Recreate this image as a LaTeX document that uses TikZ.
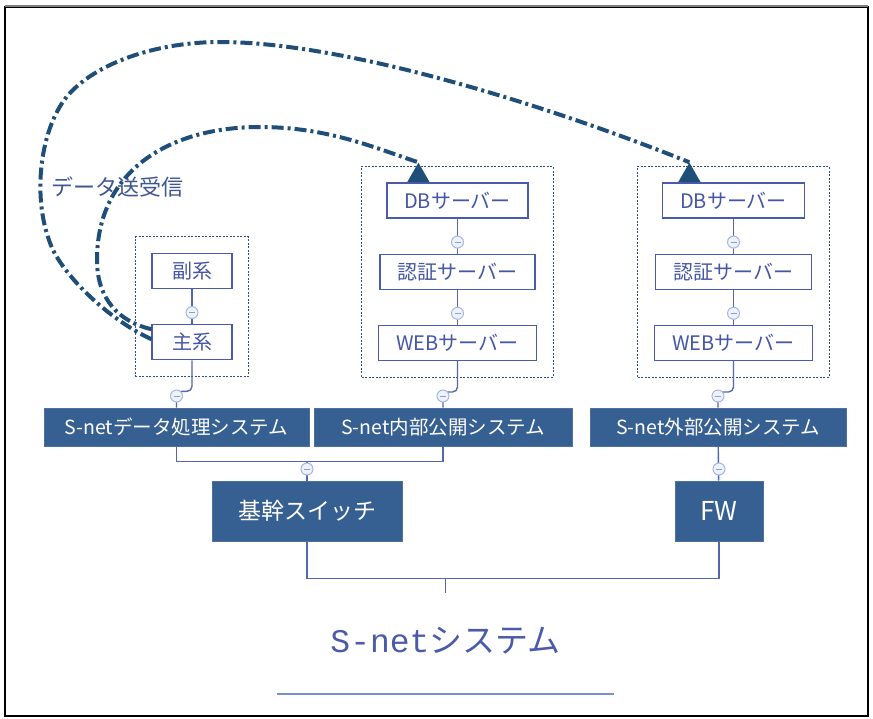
\documentclass[tikz,border=0pt]{standalone}
\usepackage{fontspec}
\setmainfont{Noto Sans CJK JP}
\newfontfamily\slabfont{Liberation Mono}
\usetikzlibrary{positioning, fit, shapes.geometric, calc}
\definecolor{navy}{HTML}{1F4E79}
\definecolor{sysblue}{HTML}{376092}
\definecolor{sysedge}{HTML}{4F6F9F}
\definecolor{boxline}{HTML}{4A5AAE}
\definecolor{boxtext}{HTML}{4656A6}
\definecolor{linkblue}{HTML}{5566B0}
\definecolor{knobline}{HTML}{A6B6E4}
\definecolor{knobfill}{HTML}{EEF2FB}
\definecolor{knobdash}{HTML}{8C9DD0}
\definecolor{grpline}{HTML}{2F4F78}
\definecolor{labelblue}{HTML}{3F5590}
\definecolor{titleblue}{HTML}{4A5BAA}
\definecolor{underblue}{HTML}{7B90CF}
\definecolor{framegray}{HTML}{7F7F7F}

\begin{document}
\begin{tikzpicture}[
  x=1pt, y=-1pt,
  srvbox/.style={draw=boxline, fill=white, line width=1.2pt, text=boxtext, font=\fontsize{20}{24}\selectfont, inner sep=0pt, minimum height=35pt},
  sysbox/.style={draw=sysedge, fill=sysblue, line width=1pt, text=white, font=\fontsize{19.5}{23}\selectfont, inner sep=0pt, minimum height=38pt},
  netbox/.style={sysbox, font=\fontsize{23}{27}\selectfont, minimum height=60pt},
  grp/.style={draw=grpline, dash pattern=on 2pt off 1.5pt, line width=1pt, inner sep=16pt},
  link/.style={draw=linkblue, line width=1.4pt},
  knob/.style={circle, draw=knobline, fill=knobfill, line width=1pt, minimum size=12pt, inner sep=0pt,
    path picture={\draw[knobdash, line width=1pt] ([xshift=-3pt]path picture bounding box.center) -- ([xshift=3pt]path picture bounding box.center);}},
  dataflow/.style={navy, line width=4pt, dash pattern=on 12pt off 4pt on 3pt off 4pt},
  flowtip/.style={regular polygon, regular polygon sides=3, fill=navy, inner sep=0pt, minimum size=26pt}
]

\useasboundingbox (0,0) rectangle (873,718);
\draw[black, line width=1.2pt] (5,7) rectangle (868,716);
\draw[framegray, line width=2pt] (5,6) -- (868,6);

% --- Data processing column ---
\node[srvbox, minimum width=80pt] (fuku) at (192,271) {副系};
\node[srvbox, minimum width=80pt, below=35pt of fuku] (shu) {主系};
\node[grp, fit=(fuku)(shu)] (grpA) {};

% --- Internal column ---
\node[srvbox, minimum width=141pt] (dbA) at (457.5,200.5) {DBサーバー};
\node[srvbox, minimum width=155pt, below=35pt of dbA] (ninA) {認証サーバー};
\node[srvbox, minimum width=158pt, below=35pt of ninA] (webA) {WEBサーバー};
\node[grp, fit=(dbA)(ninA)(webA)] (grpB) {};

% --- External column ---
\node[srvbox, minimum width=142pt] (dbB) at (733.5,200.5) {DBサーバー};
\node[srvbox, minimum width=156pt, below=35pt of dbB] (ninB) {認証サーバー};
\node[srvbox, minimum width=158pt, below=35pt of ninB] (webB) {WEBサーバー};
\node[grp, fit=(dbB)(ninB)(webB)] (grpC) {};

% --- Systems row ---
\node[sysbox, minimum width=265pt] (dp) at (176.5,427) {S-netデータ処理システム};
\node[sysbox, minimum width=258pt] (nai) at (443,427) {S-net内部公開システム};
\node[sysbox, minimum width=256pt] (gai) at (718,427) {S-net外部公開システム};

% --- Network row ---
\node[netbox, minimum width=190pt] (core) at (307,511) {基幹スイッチ};
\node[netbox, minimum width=88pt, font=\fontsize{26}{30}\selectfont] (fw) at (719,511) {FW};

% --- Root ---
\node[text=titleblue, font=\fontsize{33}{37}\selectfont, minimum width=337pt, minimum height=96pt, inner sep=0pt] (root) at (445.5,641) {{\slabfont S-net}システム};
\draw[underblue, line width=2pt] ([yshift=-5pt]root.south west) -- ([yshift=-5pt]root.south east);

% --- Tree links ---
\draw[link] (fuku) -- (shu);
\draw[link] (dbA) -- (ninA);
\draw[link] (ninA) -- (webA);
\draw[link] (dbB) -- (ninB);
\draw[link] (ninB) -- (webB);
\draw[link, rounded corners=5pt] (shu.south) -- ++(0,31) -| (dp.north);
\draw[link, rounded corners=5pt] (webA.south) -- ++(0,31) -| (nai.north);
\draw[link, rounded corners=5pt] (webB.south) -- ++(0,31) -| (gai.north);
\draw[link] (dp.south) -- ++(0,15) coordinate (busA) -| (nai.south);
\draw[link] (core.north) -- (core.north |- busA);
\draw[link] (gai) -- (fw);
\draw[link] (core.south) -- ++(0,37) coordinate (busB) -| (fw.south);
\draw[link] (root.north |- busB) -- (root.north);

% collapse knobs
\foreach \n in {shu,ninA,webA,ninB,webB,dp,nai,gai,core,fw}
  \node[knob, above=5pt of \n.north] (k-\n) {};

% --- Data exchange ---
\node[text=labelblue, font=\fontsize{22}{26}\selectfont] (lbl) at (117,187) {データ送受信};
\node[flowtip, anchor=south] (tipA) at ([xshift=32pt]dbA.north west) {};
\node[flowtip, anchor=south] (tipB) at ([xshift=27.5pt]dbB.north west) {};

\draw[dataflow] ([yshift=13pt]shu.west) .. controls (120,322) and (97,300) .. (97,260)
  .. controls (97,170) and (170,127) .. (260,127)
  .. controls (330,127) and (380,150) .. (tipA.corner 1);
\draw[dataflow] ([yshift=3pt]shu.west) .. controls (110,320) and (68,280) .. (53,250)
  .. controls (30,200) and (40,125) .. (70,93)
  .. controls (100,61) and (160,42) .. (220,42)
  .. controls (350,42) and (560,110) .. (tipB.corner 1);

\end{tikzpicture}
\end{document}
